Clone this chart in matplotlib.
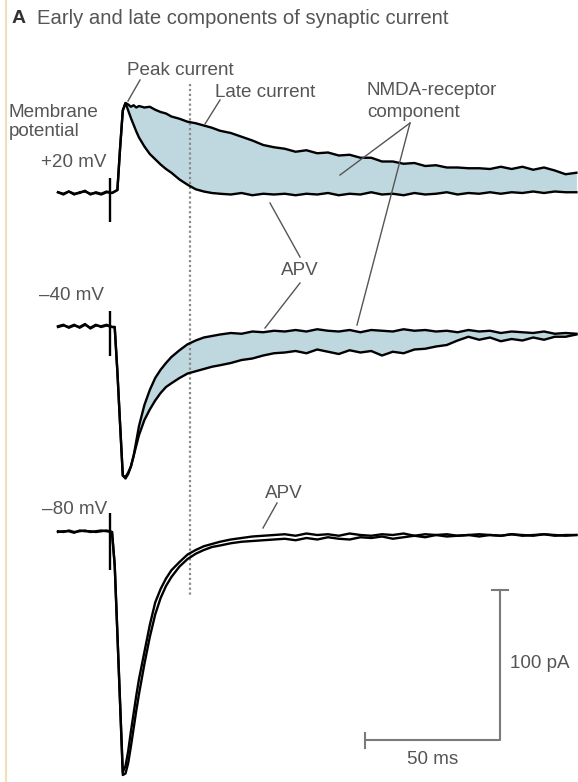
import numpy as np
import matplotlib.pyplot as plt

# shared time base (ms, stimulus at 0)
t_ms = [-20, -18, -16, -14, -12, -10, -8, -6, -4, -2,
        0, 1, 2, 3, 4, 5, 6, 7, 8, 9, 10,
        12, 14, 16, 18, 20, 22,
        25, 28, 31, 34, 37, 40, 44, 48, 52, 56, 60,
        64, 68, 72, 76, 80, 84, 88, 92, 96, 100, 104, 108, 112, 116,
        120, 124, 128, 132, 136, 140, 144, 148, 152, 156, 160, 164, 168, 172]

# currents in pA relative to holding baseline (up = outward)
p20_ctrl = [0.5, -1.0, 1.0, -0.5, 0.0, 1.5, -1.0, 0.5, -0.5, 1.0,
            0, 1, 2, 30, 55, 60, 59, 57.5, 58.5, 57, 58,
            57, 57.5, 55.5, 54, 53, 51,
            49.5, 47.5, 46.5, 45, 43.5, 41.5, 40, 37.5, 35, 32, 30.5,
            29.5, 27.5, 28.5, 26.5, 27.0, 25.0, 25.5, 23.5, 23.5, 21.0, 21.0, 19.5, 20.0, 18.0,
            18.5, 17.0, 17.0, 16.5, 16.5, 16.0, 17.5, 16.0, 17.5, 15.5, 17.0, 15.0, 12.5, 13.5]
p20_apv = [0.5, -0.5, 1.0, -1.0, 0.5, 1.0, -0.5, 0.0, -1.0, 0.5,
           0, 1, 2, 30, 55, 60, 55, 50, 45.5, 41, 37,
           31, 26, 22.5, 19, 16, 13.5,
           9, 5.5, 2.5, 1.0, 0.0, -0.5, -1.0, 0.0, -1.5, -0.5, -1.0,
           -0.5, -1.5, -0.5, -1.0, 0.0, -1.5, -0.5, -1.0, 0.5, -1.0, -0.5, -1.5, 0.0, -1.0,
           -0.5, 0.5, -1.0, 0.0, -0.5, 0.5, -0.5, 0.5, 0.0, 1.0, 0.0, 1.0, 0.5, 0.5]
m40_ctrl = [0.5, 1.5, -0.5, 1.0, 0.0, 2.0, -1.0, 1.0, 0.5, 1.5,
            0, 0, -30, -65, -99, -100, -97, -93, -86, -76, -66,
            -52, -42, -34, -28.5, -24, -20,
            -15.5, -11.5, -9.0, -7.0, -6.0, -5.0, -4.0, -4.5, -3.0, -3.5, -2.5,
            -3.0, -2.0, -3.0, -1.5, -2.5, -3.0, -2.0, -3.5, -2.0, -2.5, -3.0, -1.5, -2.5, -2.0,
            -3.0, -2.5, -3.5, -2.0, -3.0, -2.5, -4.0, -3.0, -3.5, -4.0, -3.0, -4.5, -4.0, -4.5]
m40_apv = [0.0, 1.0, 0.0, 1.5, -0.5, 1.5, -0.5, 1.5, 0.0, 1.0,
           0, 0, -30, -65, -99, -101, -98, -93, -86, -79, -72,
           -62, -55, -49, -44, -40, -37.5,
           -34, -31, -29.5, -28, -26.5, -25.5, -24, -22, -21, -19, -17.5,
           -17.0, -16.0, -17.5, -15.0, -16.5, -18.0, -15.5, -17.0, -16.0, -19.0, -16.5, -17.5, -15.0, -14.5,
           -13.0, -12.0, -9.0, -6.5, -8.5, -7.0, -9.5, -8.0, -9.0, -7.0, -8.5, -6.5, -6.5, -5.0]
m80_ctrl = [0.5, 0.0, 1.0, 0.0, 0.5, 1.0, 0.0, 0.5, 1.0, 0.5,
            0, -22, -68, -114, -160, -156, -146, -133, -121, -109, -98,
            -80, -62, -47, -38, -31, -25.5,
            -20, -15, -12, -9.5, -8, -6.5, -5, -4, -3, -2.5, -2.0,
            -1.5, -2.5, -1.0, -2.0, -1.5, -2.5, -1.0, -2.0, -2.5, -1.5, -2.0, -1.0, -2.5, -1.5,
            -2.0, -1.5, -2.5, -2.0, -1.5, -2.0, -2.5, -1.5, -2.0, -2.5, -1.5, -2.0, -2.5, -2.0]
m80_apv = [0.0, 0.5, 0.5, -0.5, 1.0, 0.5, 0.5, 0.0, 0.5, 1.0,
           0, -22, -68, -115, -162, -161, -154, -143, -131, -119, -108,
           -88, -70, -55, -44, -36, -30,
           -23, -18, -14.5, -12, -10, -9, -7.5, -6.5, -6, -5.5, -5.0,
           -4.5, -5.5, -4.0, -5.0, -3.5, -4.5, -5.0, -3.5, -4.0, -3.0, -4.5, -3.5, -2.5, -3.5,
           -2.0, -3.0, -2.5, -2.0, -3.0, -2.0, -2.5, -1.5, -2.5, -2.0, -1.5, -2.5, -2.0, -2.0]

# stimulus artifact extent (pA) for +20, -40, -80 mV
art_hi = [10, 11, 13]
art_lo = [-19, -19, -25]

W, H = 578, 782
X0, SX, SY = 112, 2.7, 1.5   # stimulus column (px), px per ms, px per pA
TXT = '#555555'
FILL = '#bfd8df'


def P(x, y):
  return (x - X0) / SX, (H - y) / SY


plt.rcParams['font.family'] = ['Liberation Sans', 'DejaVu Sans']
fig = plt.figure(figsize=(W / 100, H / 100), dpi=100)
ax = fig.add_axes([0, 0, 1, 1])
ax.set_xlim(P(0, 0)[0], P(W, 0)[0])
ax.set_ylim(0, H / SY)
ax.axis('off')

t = np.array(t_ms, dtype=float)
sweeps = [(p20_ctrl, p20_apv, 193, True),
          (m40_ctrl, m40_apv, 327, True),
          (m80_ctrl, m80_apv, 532, False)]
for k, (ctrl, apv, row, shade) in enumerate(sweeps):
  base = P(0, row)[1]
  c = base + np.array(ctrl)
  a = base + np.array(apv)
  if shade:
    ax.fill_between(t, c, a, where=t >= 4, color=FILL, lw=0, zorder=1)
  ax.plot(t, a, color='black', lw=1.7, zorder=3, solid_joinstyle='round')
  ax.plot(t, c, color='black', lw=1.7, zorder=3, solid_joinstyle='round')
  ax.vlines(-0.74, base + art_lo[k], base + art_hi[k], color='black', lw=1.7, zorder=3)

# dotted time marker
x1, y1 = P(190, 84)
_, y2 = P(190, 597)
ax.plot([x1, x1], [y1, y2], color='#8a8a8a', lw=1.6, ls=(0, (1, 1.2)), zorder=2)

# left margin rule
ax.plot([P(6, 0)[0]] * 2, [0, H / SY], color='#f1dfb8', lw=1.5)

# scale bars: 50 ms, 100 pA
sx, sy = P(365, 740)
ax.plot([sx, sx + 50, sx + 50], [sy, sy, sy + 100], color='#7a7a7a', lw=1.5)
ax.plot([sx, sx], [sy - 5, sy + 5], color='#7a7a7a', lw=1.5)
ax.plot([sx + 47, sx + 53], [sy + 100, sy + 100], color='#7a7a7a', lw=1.5)

# leader lines
leaders = [((140, 80), (128, 101)), ((220, 100), (205, 124)),
           ((410, 123), (340, 175)), ((410, 123), (357, 325)),
           ((300, 257), (270, 203)), ((300, 283), (265, 328)),
           ((277, 503), (263, 528))]
for p0, p1 in leaders:
  a0, a1 = P(*p0), P(*p1)
  ax.plot([a0[0], a1[0]], [a0[1], a1[1]], color='#555555', lw=1.0, zorder=4)

fs = 13.6
labels = [(127, 70, 'Peak current', 'left'),
          (215, 92, 'Late current', 'left'),
          (9, 112, 'Membrane', 'left'),
          (9, 131, 'potential', 'left'),
          (107, 162, '+20 mV', 'right'),
          (367, 90, 'NMDA-receptor', 'left'),
          (367, 112, 'component', 'left'),
          (300, 270, 'APV', 'center'),
          (104, 295, '\u201340 mV', 'right'),
          (107, 510, '\u201380 mV', 'right'),
          (284, 493, 'APV', 'center'),
          (510, 663, '100 pA', 'left'),
          (433, 760, '50 ms', 'center')]
for x, y, s, ha in labels:
  ax.text(*P(x, y), s, ha=ha, va='center', fontsize=fs, color=TXT)
ax.text(*P(37, 18), 'Early and late components of synaptic current', ha='left',
        va='center', fontsize=14.6, color=TXT)
ax.text(*P(12, 18), 'A', ha='left', va='center', fontsize=14, color='#333333', weight='bold')

fig.savefig('out.png', dpi=100)
